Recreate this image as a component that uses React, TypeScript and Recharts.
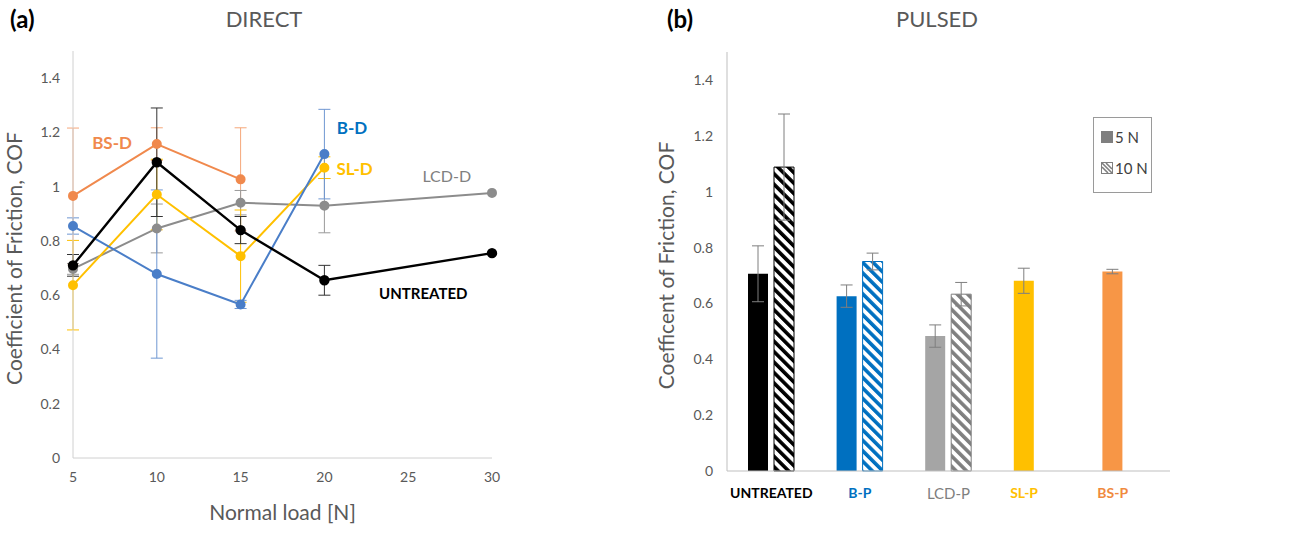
import React from 'react';
import {
  LineChart, Line, BarChart, Bar, Cell, XAxis, YAxis, ErrorBar, ReferenceDot, Legend,
} from 'recharts';

// panel (a): direct treatment, COF vs normal load
const loads = [5, 10, 15, 20, 30];
const untreatedD = [0.71, 1.09, 0.84, 0.655, 0.755];
const untreatedDErr = [0.04, 0.2, 0.05, 0.055, 0];
const bD = [0.855, 0.678, 0.566, 1.12, null];
const bDErr = [0.03, 0.31, 0.015, 0.165, null];
const slD = [0.637, 0.971, 0.744, 1.07, null];
const slDErr = [0.165, 0.13, 0.17, 0.04, null];
const lcdD = [0.697, 0.846, 0.941, 0.93, 0.977];
const lcdDErr = [0.02, 0.09, 0.045, 0.1, 0];
const bsD = [0.966, 1.157, 1.027, null, null];
const bsDErr = [0.25, 0.06, 0.19, null, null];
const loadTicks = [5, 10, 15, 20, 25, 30];
const cofTicks = [0, 0.2, 0.4, 0.6, 0.8, 1, 1.2, 1.4];

// panel (b): pulsed treatment
const categories = ['UNTREATED', 'B-P', 'LCD-P', 'SL-P', 'BS-P'];
const cof5N = [0.706, 0.626, 0.483, 0.681, 0.714];
const err5N = [0.1, 0.04, 0.04, 0.045, 0.008];
const cof10N = [1.088, 0.75, 0.633, null, null];
const err10N = [0.19, 0.03, 0.042, null, null];

const BAR_SIZE = 20;
const BAR_GAP = 6;

const barFill = ['#000000', '#0070C0', '#A5A5A5', '#FFC000', '#F79646'];
const hatchIds = ['hatch-black', 'hatch-blue', 'hatch-gray', '', ''];
const hatchStroke = ['#000000', '#0070C0', '#7F7F7F', '', ''];
const labelColor = ['#000000', '#0070C0', '#7F7F7F', '#FFC000', '#F08A3E'];
const labelBold = [true, true, false, true, true];

const lineData = loads.map((x, i) => ({
  x,
  untreated: untreatedD[i], untreatedErr: untreatedDErr[i],
  b: bD[i], bErr: bDErr[i],
  sl: slD[i], slErr: slDErr[i],
  lcd: lcdD[i], lcdErr: lcdDErr[i],
  bs: bsD[i], bsErr: bsDErr[i],
}));

const barData = categories.map((name, i) => ({
  name, n5: cof5N[i], e5: err5N[i], n10: cof10N[i], e10: err10N[i],
}));

const tickStyle = { fill: '#595959', fontSize: 14 };

function CategoryTick(props: any) {
  const { x, y, payload } = props;
  const i = categories.indexOf(payload.value);
  const shift = cof10N[i] == null ? -(BAR_SIZE + BAR_GAP) / 2 : 0;
  return (
    <text x={x + shift} y={y} dy="0.71em" textAnchor="middle" fontSize={labelBold[i] ? 14 : 15}
      fontWeight={labelBold[i] ? 700 : 400} fill={labelColor[i]}>
      {payload.value}
    </text>
  );
}

function PulsedLegend() {
  return (
    <div style={{ border: '1px solid #9A9A9A', background: '#fff', width: 59, height: 76, boxSizing: 'border-box', padding: '7px 0 0 7px', color: '#404040', fontSize: 15, whiteSpace: 'nowrap' }}>
      <div style={{ display: 'flex', alignItems: 'center', height: 24 }}>
        <svg width={12} height={12} style={{ marginRight: 2 }}><rect x={0} y={0} width={12} height={12} fill="#7F7F7F" /></svg>
        <span>5 N</span>
      </div>
      <div style={{ display: 'flex', alignItems: 'center', height: 38 }}>
        <svg width={12} height={12} style={{ marginRight: 2 }}>
          <rect x={0.5} y={0.5} width={11} height={11} fill="#fff" stroke="#7F7F7F" />
          <path d="M1,1 L11,11 M1,5 L7,11 M5,1 L11,7" stroke="#7F7F7F" strokeWidth={1.6} />
        </svg>
        <span>10 N</span>
      </div>
    </div>
  );
}

const panelLabel: React.CSSProperties = { position: 'absolute', fontSize: 24, fontWeight: 700, color: '#000' };
const panelTitle: React.CSSProperties = { position: 'absolute', fontSize: 22, color: '#595959', transform: 'translateX(-50%)' };

export default function App() {
  return (
    <div style={{ position: 'absolute', left: 0, top: 0, width: 1308, height: 547, background: '#fff', fontFamily: 'Lato, sans-serif' }}>
      <div style={{ ...panelLabel, left: 10, top: 4 }}>(a)</div>
      <div style={{ ...panelTitle, left: 264, top: 5 }}>DIRECT</div>
      <div style={{ ...panelLabel, left: 667, top: 4 }}>(b)</div>
      <div style={{ ...panelTitle, left: 937, top: 5 }}>PULSED</div>

      <div style={{ position: 'absolute', left: 0, top: 0 }}>
        <LineChart width={650} height={547} data={lineData} margin={{ top: 51, right: 158, bottom: 19, left: 5 }}>
          <XAxis dataKey="x" type="number" domain={[5, 30]} ticks={loadTicks} stroke="#D0D0D0"
            tick={tickStyle} tickLine={false} tickSize={0} tickMargin={14} height={70}
            label={{ value: 'Normal load [N]', position: 'insideBottom', offset: 8, style: { fontSize: 21, fill: '#595959' } }} />
          <XAxis xAxisId="top" orientation="top" dataKey="x" type="number" domain={[5, 30]} height={0}
            tick={false} tickLine={false} stroke="#D0D0D0" />
          <YAxis domain={[0, 1.5]} ticks={cofTicks} width={68} stroke="#D0D0D0" tick={tickStyle}
            tickLine={false} tickSize={0} tickMargin={13}
            label={{ value: 'Coefficient of Friction, COF', angle: -90, position: 'insideLeft', offset: 10, dy: 4, style: { textAnchor: 'middle', fontSize: 21, fill: '#595959' } }} />
          <YAxis yAxisId="right" orientation="right" domain={[0, 1.5]} width={0} tick={false}
            tickLine={false} stroke="#D0D0D0" />
          <Line dataKey="bs" stroke="#F0894D" strokeWidth={2} dot={{ r: 4, fill: '#F0894D', stroke: '#F0894D' }} isAnimationActive={false}>
            <ErrorBar dataKey="bsErr" direction="y" width={6} stroke="#F5A77A" strokeWidth={1} />
          </Line>
          <Line dataKey="lcd" stroke="#8C8C8C" strokeWidth={2} dot={{ r: 4, fill: '#8C8C8C', stroke: '#8C8C8C' }} isAnimationActive={false}>
            <ErrorBar dataKey="lcdErr" direction="y" width={6} stroke="#9A9A9A" strokeWidth={1} />
          </Line>
          <Line dataKey="sl" stroke="#FFC000" strokeWidth={2} dot={{ r: 4, fill: '#FFC000', stroke: '#FFC000' }} isAnimationActive={false}>
            <ErrorBar dataKey="slErr" direction="y" width={6} stroke="#FFC000" strokeWidth={1} />
          </Line>
          <Line dataKey="b" stroke="#4A7EC8" strokeWidth={2} dot={{ r: 4, fill: '#4A7EC8', stroke: '#4A7EC8' }} isAnimationActive={false}>
            <ErrorBar dataKey="bErr" direction="y" width={6} stroke="#6F97D2" strokeWidth={1} />
          </Line>
          <Line dataKey="untreated" stroke="#000000" strokeWidth={2.4} dot={{ r: 4, fill: '#000', stroke: '#000' }} isAnimationActive={false}>
            <ErrorBar dataKey="untreatedErr" direction="y" width={6} stroke="#333" strokeWidth={1} />
          </Line>
          <ReferenceDot x={7.33} y={1.16} r={0} stroke="none" label={{ value: 'BS-D', position: 'center', fill: '#F0894D', fontSize: 17, fontWeight: 700 }} />
          <ReferenceDot x={21.65} y={1.217} r={0} stroke="none" label={{ value: 'B-D', position: 'center', fill: '#0070C0', fontSize: 17, fontWeight: 700 }} />
          <ReferenceDot x={21.8} y={1.064} r={0} stroke="none" label={{ value: 'SL-D', position: 'center', fill: '#FFC000', fontSize: 17, fontWeight: 700 }} />
          <ReferenceDot x={27.3} y={1.039} r={0} stroke="none" label={{ value: 'LCD-D', position: 'center', fill: '#808080', fontSize: 16 }} />
          <ReferenceDot x={25.9} y={0.604} r={0} stroke="none" label={{ value: 'UNTREATED', position: 'center', fill: '#000', fontSize: 15, fontWeight: 700 }} />
        </LineChart>
      </div>

      <div style={{ position: 'absolute', left: 650, top: 0 }}>
        <BarChart width={658} height={547} data={barData} barSize={BAR_SIZE} barGap={BAR_GAP}
          margin={{ top: 52, right: 138, bottom: 16, left: 5 }}>
          <defs>
            {hatchIds.map((id, i) => id ? (
              <pattern key={id} id={id} patternUnits="userSpaceOnUse" width={7.4} height={7.4} patternTransform="rotate(-45)">
                <rect x={0} y={0} width={7.4} height={7.4} fill="#fff" />
                <rect x={0} y={0} width={3.6} height={7.4} fill={hatchStroke[i]} />
              </pattern>
            ) : null)}
          </defs>
          <XAxis dataKey="name" stroke="#BFBFBF" tickLine={false} tickSize={0} tickMargin={17} height={60}
            tick={<CategoryTick />} interval={0} />
          <XAxis xAxisId="top" orientation="top" dataKey="name" height={0} tick={false} tickLine={false} stroke="#BFBFBF" />
          <YAxis domain={[0, 1.5]} ticks={cofTicks} width={72} stroke="#BFBFBF" tick={{ fill: '#595959', fontSize: 14 }}
            tickLine={false} tickSize={0} tickMargin={14}
            label={{ value: 'Coefficent of Friction, COF', angle: -90, position: 'insideLeft', offset: 12, dy: 4, style: { textAnchor: 'middle', fontSize: 21, fill: '#595959' } }} />
          <YAxis yAxisId="right" orientation="right" domain={[0, 1.5]} width={0} tick={false} tickLine={false} stroke="#BFBFBF" />
          <Legend content={<PulsedLegend />} layout="horizontal" verticalAlign="middle" align="center"
            wrapperStyle={{ top: 117, left: 443, width: 59, height: 76 }} />
          <Bar dataKey="n5" isAnimationActive={false}>
            {categories.map((c, i) => <Cell key={c} fill={barFill[i]} />)}
            <ErrorBar dataKey="e5" width={6} stroke="#7F7F7F" strokeWidth={1} />
          </Bar>
          <Bar dataKey="n10" isAnimationActive={false}>
            {categories.map((c, i) => (
              <Cell key={c} fill={hatchIds[i] ? `url(#${hatchIds[i]})` : 'none'} stroke={hatchStroke[i] || 'none'} strokeWidth={1} />
            ))}
            <ErrorBar dataKey="e10" width={6} stroke="#7F7F7F" strokeWidth={1} />
          </Bar>
        </BarChart>
      </div>
    </div>
  );
}
